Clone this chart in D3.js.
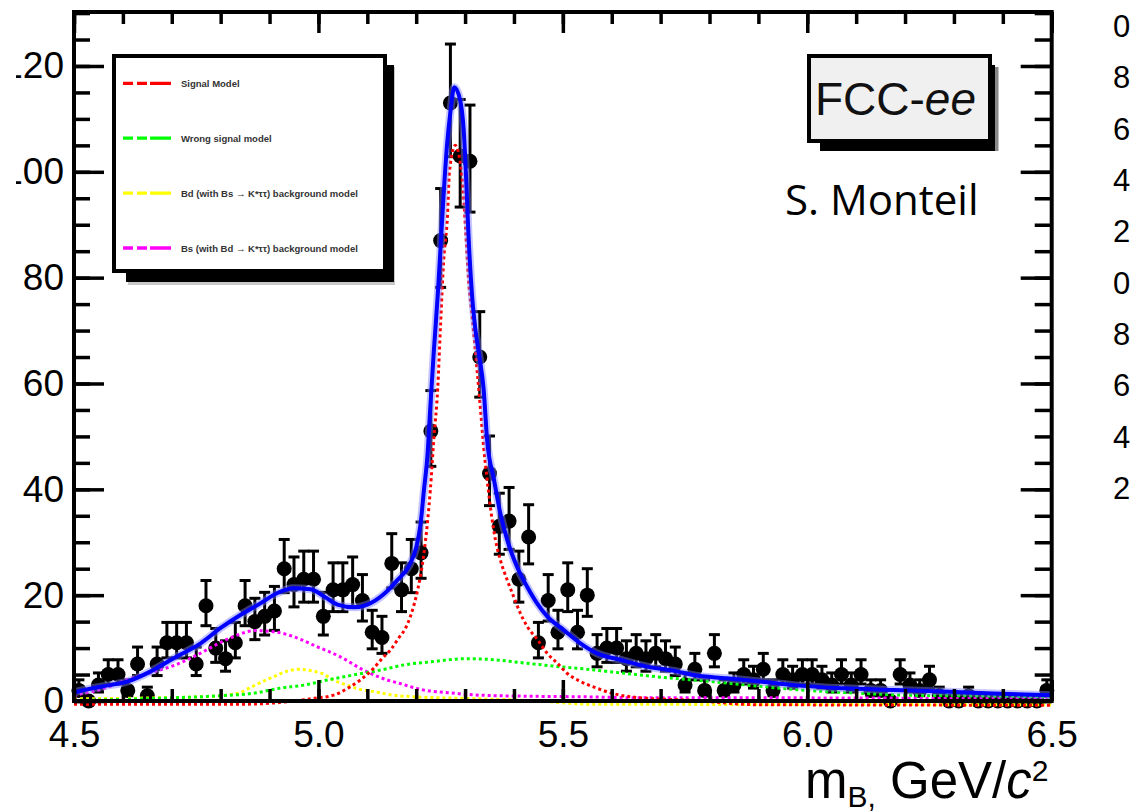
<!DOCTYPE html>
<html>
<head>
<meta charset="utf-8">
<script src="https://cdn.jsdelivr.net/npm/d3@7"></script>
<style>
body { margin: 0; background: #fff; overflow: hidden; }
text { font-family: "Liberation Sans", Arial, Helvetica, sans-serif; }
</style>
</head>
<body>
<script>
// histogram: 100 bins of 0.02 GeV from 4.5 to 6.5
var binLow = 4.5, binWidth = 0.02;
var counts = [
  2, 0, 3, 5, 5, 2, 7, 1, 7, 11,
  11, 11, 7, 18, 10, 8, 11, 18, 15, 16,
  17, 25, 22, 23, 23, 16, 21, 21, 22, 19,
  13, 12, 26, 21, 25, 28, 51, 87, 113, 103,
  102, 65, 43, 33, 34, 23, 31, 11, 19, 13,
  21, 13, 20, 9, 10, 10, 8, 9, 8, 9,
  8, 7, 3, 6, 2, 9, 2, 3, 5, 4,
  6, 2, 5, 4, 5, 5, 4, 3, 5, 3,
  5, 2, 2, 0, 5, 3, 2, 4, 1, 0,
  0, 1, 0, 0, 0, 0, 0, 0, 0, 2
];

// fit curves as [mass, events]
var totalFit = [[4.5,1.6],[4.508,1.8],[4.555,2.7],[4.61,3.7],[4.657,5.6],[4.704,8.1],[4.759,10.9],
  [4.8,13.8],[4.841,16.3],[4.882,18.5],[4.916,20.4],[4.949,21.3],[4.984,21.1],[5.011,19.8],
  [5.039,18.2],[5.073,17.7],[5.1,18.2],[5.134,20.2],[5.161,22.8],[5.185,25.5],[5.2,29],
  [5.209,33.5],[5.216,40],[5.223,46.3],[5.229,55.7],[5.236,66],[5.244,76.6],[5.25,86],
  [5.256,95.5],[5.263,105],[5.27,111.3],[5.278,116],[5.29,113.5],[5.297,108.1],[5.303,97],
  [5.307,88],[5.314,77],[5.321,70.3],[5.329,65.2],[5.338,58.9],[5.345,49.4],[5.359,41.9],
  [5.372,35.5],[5.386,30.5],[5.406,25.4],[5.427,21.6],[5.447,18.5],[5.468,16],[5.502,13.4],
  [5.536,10.9],[5.57,9.0],[5.617,7.8],[5.672,6.5],[5.733,5.6],[5.767,4.9],[5.835,4.3],
  [5.903,3.7],[5.971,3.0],[6.074,2.4],[6.176,2.1],[6.278,1.8],[6.38,1.4],[6.5,1.1]];

var signalModel = [[4.5,-0.6],[4.85,-0.6],[4.95,0],[4.99,0.5],[5.031,1.1],[5.06,2.4],[5.086,4],
  [5.113,6.2],[5.131,8.1],[5.148,9.7],[5.162,11.6],[5.182,14.5],[5.195,18],[5.203,21],
  [5.215,27.3],[5.223,33.7],[5.229,40],[5.236,49.4],[5.244,59],[5.25,71.5],[5.256,82.9],
  [5.264,91.7],[5.268,100],[5.28,105],[5.294,98.7],[5.301,89.2],[5.307,79.7],[5.315,72.2],
  [5.325,62],[5.331,55.7],[5.338,48],[5.345,41.9],[5.352,36.5],[5.362,30.5],[5.372,26.7],
  [5.386,22.9],[5.399,19.8],[5.413,16.6],[5.427,14.1],[5.448,11.6],[5.468,9.0],[5.489,7.1],
  [5.509,5.2],[5.536,3.7],[5.57,2.4],[5.603,1.4],[5.673,0.5],[5.75,0.2],[5.9,-0.7],[6.5,-0.8]];

var wrongSignal = [[4.5,0.1],[4.6,0.3],[4.7,0.6],[4.8,1.0],[4.87,1.5],[4.92,2.4],[4.97,3.0],
  [5.02,4.0],[5.07,4.9],[5.13,5.9],[5.18,6.9],[5.23,7.4],[5.3,8.0],[5.36,7.8],[5.41,7.3],
  [5.48,6.6],[5.55,6.0],[5.6,5.5],[5.65,5.0],[5.7,4.5],[5.8,3.7],[5.9,2.8],[6.0,2.0],
  [6.1,1.5],[6.2,1.1],[6.3,1.0],[6.4,0.9],[6.5,0.8]];

var bkgYellow = [[4.5,0.4],[4.6,0.5],[4.676,0.6],[4.758,0.8],[4.812,1.1],[4.84,1.6],[4.864,2.7],
  [4.887,3.7],[4.911,4.7],[4.938,5.7],[4.962,6.0],[4.986,5.7],[5.01,5.1],[5.03,4.0],
  [5.058,3.0],[5.085,2.2],[5.112,1.8],[5.153,1.1],[5.194,0.8],[5.3,0.5],[5.45,0],
  [5.55,-0.6],[6.5,-0.7]];

var bkgMagenta = [[4.5,0.9],[4.506,1.1],[4.553,2.1],[4.608,4.0],[4.655,5.3],[4.707,6.8],
  [4.758,9.0],[4.79,10.6],[4.822,12.0],[4.87,13.3],[4.915,13.0],[4.948,12.2],[4.996,10.3],
  [5.044,8.4],[5.091,5.9],[5.14,4.0],[5.167,3.3],[5.214,2.1],[5.262,1.6],[5.33,1.1],
  [5.433,0.9],[5.535,0.8],[5.672,0.6],[5.9,0.6],[6.5,0.4]];

var yTicks = [0, 20, 40, 60, 80, 100, 120];
var xTicks = [4.5, 5, 5.5, 6, 6.5];
var legendNames = ["Signal Model", "Wrong signal model",
  "Bd (with Bs \u2192 K*\u03c4\u03c4) background model",
  "Bs (with Bd \u2192 K*\u03c4\u03c4) background model"];
var legendColors = ["#ff0000", "#00ff00", "#ffff00", "#ff00ff"];
// first digits of the next plot's axis, cut by the page edge
var rightLabels = ["0", "8", "6", "4", "2", "0", "8", "6", "4", "2"];

var svg = d3.select("body").append("svg")
    .attr("width", 1132)
    .attr("height", 811);

var x = d3.scaleLinear().domain([4.5, 6.5]).range([74, 1051.7]),
    y = d3.scaleLinear().domain([0, 130.2]).range([701, 12]);

// data points with poisson-ish error bars
var bins = counts.map(function(c, i) {
    return {m: binLow + binWidth * (i + 0.5), n: c};
});

var pts = svg.append("g").attr("class", "points");

pts.selectAll(".err")
    .data(bins.filter(function(d) { return d.n > 0; }))
    .enter()
    .append("g")
    .attr("class", "err")
    .each(function(d) {
        var g = d3.select(this),
            s = Math.sqrt(d.n + 0.25),
            lo = y(d.n - (s - 0.5)),
            hi = y(d.n + s + 0.5),
            cx = x(d.m);
        g.append("line").attr("x1", cx).attr("x2", cx).attr("y1", lo).attr("y2", hi)
            .attr("stroke", "#000").attr("stroke-width", 3);
        [lo, hi].forEach(function(v) {
            g.append("line").attr("x1", cx - 5.5).attr("x2", cx + 5.5).attr("y1", v).attr("y2", v)
                .attr("stroke", "#000").attr("stroke-width", 3);
        });
    });

pts.selectAll("circle")
    .data(bins)
    .enter()
    .append("circle")
    .attr("cx", function(d) { return x(d.m); })
    .attr("cy", function(d) { return y(d.n); })
    .attr("r", 7.5)
    .style("fill", "#000");

// fit components
var line = d3.line()
    .x(function(d) { return x(d[0]); })
    .y(function(d) { return y(d[1]); })
    .curve(d3.curveMonotoneX);

[[bkgMagenta, "#ff00ff"], [bkgYellow, "#ffff00"], [wrongSignal, "#00ff00"], [signalModel, "#ff0000"]]
    .forEach(function(c) {
        svg.append("path")
            .datum(c[0])
            .attr("d", line)
            .style("fill", "none")
            .style("stroke", c[1])
            .style("stroke-width", 3)
            .style("stroke-dasharray", "3,3");
    });

svg.append("path")
    .datum(totalFit)
    .attr("d", line)
    .style("fill", "none")
    .style("stroke", "#8080ff")
    .style("stroke-opacity", 0.45)
    .style("stroke-width", 8);

svg.append("path")
    .datum(totalFit)
    .attr("d", line)
    .style("fill", "none")
    .style("stroke", "#0000ff")
    .style("stroke-width", 4);

// axes, ticks drawn inward like ROOT
function drawAxis(axis, tr) {
    var g = svg.append("g").attr("transform", tr).call(axis);
    g.select(".domain").remove();
    g.attr("font-size", 37).attr("font-family", null);
    g.selectAll(".tick line").attr("stroke", "#000").attr("stroke-width", 3.5);
    g.selectAll(".tick text").attr("fill", "#000");
    return g;
}

var yMinor = d3.range(0, 131, 5),
    xMinor = d3.range(45, 66).map(function(v) { return v / 10; });

drawAxis(d3.axisLeft(y).tickValues(yMinor).tickSize(-16).tickFormat(""), "translate(74,0)");
drawAxis(d3.axisLeft(y).tickValues(yTicks).tickSize(-30).tickPadding(10), "translate(74,0)");
drawAxis(d3.axisRight(y).tickValues(yMinor).tickSize(-17).tickFormat(""), "translate(1051.7,0)");
drawAxis(d3.axisRight(y).tickValues(yTicks).tickSize(-31).tickFormat(""), "translate(1051.7,0)");
drawAxis(d3.axisBottom(x).tickValues(xMinor).tickSize(-12).tickFormat(""), "translate(0,701)");
drawAxis(d3.axisBottom(x).tickValues(xTicks).tickSize(-21).tickPadding(20), "translate(0,701)");
drawAxis(d3.axisTop(x).tickValues(xMinor).tickSize(-12).tickFormat(""), "translate(0,12)");
drawAxis(d3.axisTop(x).tickValues(xTicks).tickSize(-21).tickFormat(""), "translate(0,12)");

svg.append("rect")
    .attr("x", 74).attr("y", 12)
    .attr("width", 1051.7 - 74).attr("height", 701 - 12)
    .style("fill", "none")
    .style("stroke", "#000")
    .style("stroke-width", 4);

// left edge of the picture is cropped
svg.append("rect").attr("x", 0).attr("y", 0).attr("width", 16).attr("height", 811).style("fill", "#fff");

// legend box
var leg = svg.append("g").attr("class", "legend");
leg.append("rect").attr("x", 128).attr("y", 67).attr("width", 267).attr("height", 218).style("fill", "#c8c8c8");
leg.append("rect").attr("x", 126).attr("y", 65).attr("width", 268).attr("height", 217).style("fill", "#000");
leg.append("rect").attr("x", 114).attr("y", 56).attr("width", 271).attr("height", 215)
    .style("fill", "#fff").style("stroke", "#000").style("stroke-width", 4);

var legY = d3.scalePoint().domain(d3.range(legendNames.length)).range([83.3, 248]);

legendNames.forEach(function(name, i) {
    leg.append("line")
        .attr("x1", 123).attr("x2", 171)
        .attr("y1", legY(i)).attr("y2", legY(i))
        .style("stroke", legendColors[i])
        .style("stroke-width", 3.3)
        .style("stroke-dasharray", "10,4,10,3,21");
    leg.append("text")
        .attr("x", 181).attr("y", legY(i) + 3.5)
        .attr("font-size", 9.5)
        .attr("font-weight", "bold")
        .style("fill", "#333")
        .text(name);
});

// FCC-ee label
var fcc = svg.append("g");
fcc.append("rect").attr("x", 822).attr("y", 67).attr("width", 176.5).attr("height", 84).style("fill", "#888");
fcc.append("rect").attr("x", 820).attr("y", 65).attr("width", 175).attr("height", 86).style("fill", "#000");
fcc.append("rect").attr("x", 809).attr("y", 56).attr("width", 181).attr("height", 85)
    .style("fill", "#f0f0f0").style("stroke", "#000").style("stroke-width", 4);
var ft = fcc.append("text").attr("x", 815).attr("y", 115).attr("font-size", 46).style("fill", "#111");
ft.append("tspan").text("FCC-");
ft.append("tspan").attr("font-style", "italic").text("ee");

svg.append("text")
    .attr("x", 785).attr("y", 215)
    .attr("font-size", 42)
    .style("font-family", "'Open Sans', 'Noto Sans', sans-serif")
    .style("fill", "#000")
    .text("S. Monteil");

// x axis title
var xt = svg.append("text").attr("x", 805).attr("y", 798).attr("font-size", 51).style("fill", "#000");
xt.append("tspan").text("m");
xt.append("tspan").attr("font-size", 30).attr("dy", 9).text("B,");
xt.append("tspan").attr("dy", -9).text(" GeV/");
xt.append("tspan").attr("font-style", "italic").text("c");
xt.append("tspan").attr("font-size", 30).attr("dy", -17).text("2");

// neighbouring plot labels at the right edge
var rl = d3.scaleLinear().domain([0, rightLabels.length - 1]).range([26, 488]);
svg.selectAll(".rlab")
    .data(rightLabels)
    .enter()
    .append("text")
    .attr("class", "rlab")
    .attr("x", 1113)
    .attr("y", function(d, i) { return rl(i); })
    .attr("dy", "0.35em")
    .attr("font-size", 31)
    .style("fill", "#000")
    .text(function(d) { return d; });
</script>
</body>
</html>
